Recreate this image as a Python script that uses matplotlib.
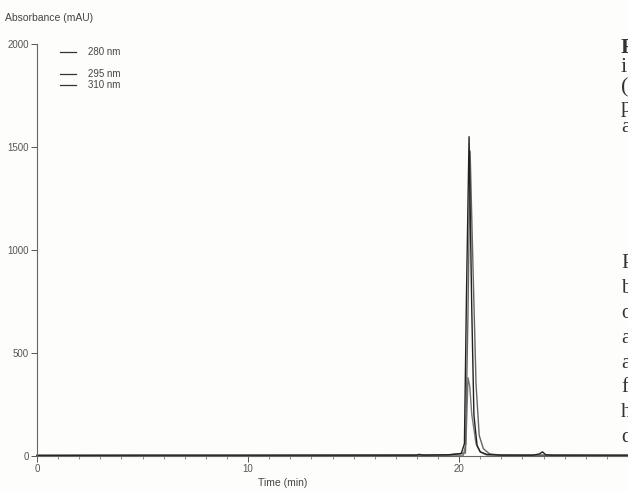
import matplotlib.pyplot as plt
from matplotlib.lines import Line2D
from matplotlib.ticker import MultipleLocator

t_280 = [0, 5, 10, 15, 18, 18.1, 18.3, 19.5, 20.1, 20.25, 20.35, 20.47, 20.6, 20.7,
         20.85, 21.0, 21.3, 22, 23.5, 23.8, 23.95, 24.1, 24.4, 28]
a_280 = [3, 4, 4, 4, 4, 8, 4, 6, 12, 60, 800, 1550, 700, 200,
         50, 20, 8, 4, 4, 10, 20, 6, 4, 4]

t_295 = [0, 10, 19.5, 20.3, 20.42, 20.52, 20.66, 20.8, 20.95, 21.15, 21.45, 22, 28]
a_295 = [3, 3, 5, 15, 700, 1480, 900, 350, 100, 35, 10, 4, 3]

t_310 = [0, 10, 20.2, 20.32, 20.42, 20.5, 20.6, 20.8, 21.0, 21.3, 28]
a_310 = [2, 2, 4, 60, 380, 340, 200, 60, 20, 5, 2]

series = [("280 nm", t_280, a_280, "#222222"),
          ("295 nm", t_295, a_295, "#666666"),
          ("310 nm", t_310, a_310, "#777777")]

x_ticks = [0, 10, 20]
y_ticks = [0, 500, 1000, 1500, 2000]

W, H = 628, 491
fig = plt.figure(figsize=(W / 100, H / 100), dpi=100)
fig.patch.set_facecolor("#fdfdfc")
ax = fig.add_axes([37 / W, 35 / H, 1 - 37 / W, (456 - 44) / H])
ax.set_facecolor("none")

for nome, t, a, cor in series[::-1]:
    ax.plot(t, a, color=cor, lw=1.0, clip_on=False)

ax.set_xlim(0, 28)
ax.set_ylim(0, 2000)
ax.set_xticks(x_ticks)
ax.set_yticks(y_ticks)
ax.xaxis.set_minor_locator(MultipleLocator(1))
for s in ["top", "right"]:
    ax.spines[s].set_visible(False)
for s in ["left", "bottom"]:
    ax.spines[s].set_color("#666666")
    ax.spines[s].set_linewidth(0.8)
ax.tick_params(labelsize=7, colors="#555555", length=4, width=0.7, pad=2,
               labelfontfamily="Liberation Sans")
ax.tick_params(which="minor", length=2, width=0.6, colors="#777777")

fig.text(5 / W, 1 - 18 / H, "Absorbance (mAU)", fontsize=7.5, color="#444444",
         family="Liberation Sans", va="center")
fig.text(283 / W, 1 - 483 / H, "Time (min)", fontsize=7.5, color="#444444",
         family="Liberation Sans", ha="center", va="center")

# legenda desenhada a mao (espacamento desigual)
for (nome, t, a, cor), y in zip(series, [52, 74, 85]):
    yy = 1 - y / H
    fig.add_artist(Line2D([60 / W, 76 / W], [yy, yy], color="#333333", lw=0.9))
    fig.text(88 / W, yy, nome, fontsize=7, color="#444444",
             family="Liberation Sans", va="center")

# texto da pagina vizinha, cortado na borda (como no original)
bloco1 = [("F", 48, "bold"), ("i", 68, "normal"), ("(", 88, "normal"),
          ("p", 108, "normal"), ("a", 127, "normal")]
bloco2 = ["P", "b", "o", "a", "a", "f", "h", "q"]
for ch, y, peso in bloco1:
    fig.text(621 / W, 1 - y / H, ch, fontsize=16, color="#333333",
             family="Liberation Serif", weight=peso, va="center")
for i, ch in enumerate(bloco2):
    fig.text(621 / W, 1 - (264 + 24.8 * i) / H, ch, fontsize=15, color="#333333",
             family="Liberation Serif", va="center")

fig.savefig("out.png", dpi=100)
